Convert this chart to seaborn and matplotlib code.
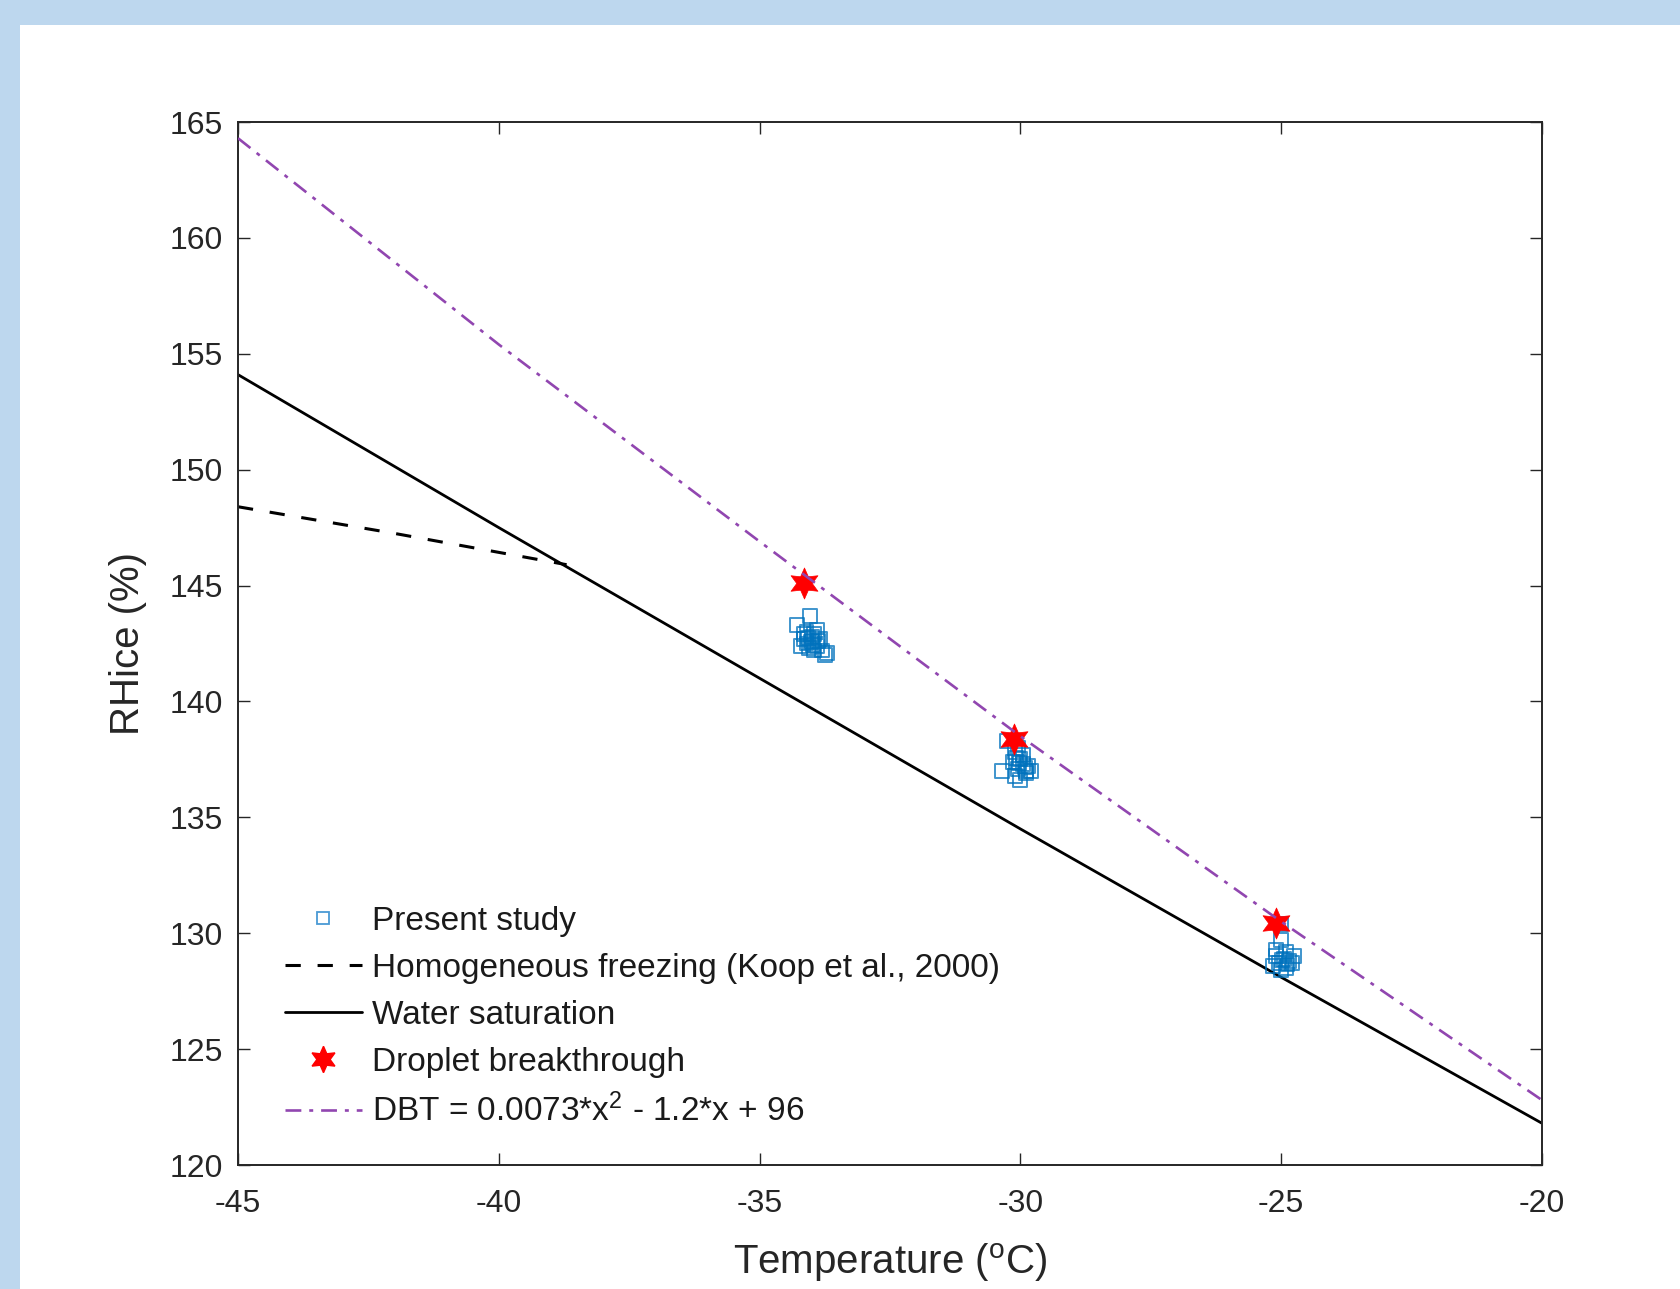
import matplotlib
matplotlib.use("Agg")
import matplotlib.pyplot as plt
from matplotlib.lines import Line2D
from matplotlib.patches import Rectangle
import seaborn as sns
import pandas as pd

# ---------------- data ----------------
present_T = [-34.03, -34.28, -34.10, -33.95, -34.15, -34.00, -33.85, -34.20, -34.05, -33.90,
             -33.80, -34.10, -33.95, -33.75, -33.70, -34.00, -33.90, -34.15, -34.02, -33.88,
             -34.08, -33.98,
             -30.26, -30.35, -30.10, -30.00, -29.95, -30.05, -29.90, -30.10, -30.00, -29.85,
             -29.80, -30.15, -29.95, -30.05, -29.90, -30.02, -29.92, -30.08,
             -25.00, -25.00, -25.10, -24.95, -24.85, -25.15, -25.05, -24.90, -24.80, -25.00,
             -24.75, -25.10, -24.90, -24.98, -24.88]
present_RH = [143.7, 143.3, 143.0, 142.9, 142.7, 142.6, 142.7, 142.4, 142.3, 142.4,
              142.2, 142.5, 142.2, 142.0, 142.1, 142.8, 143.1, 142.9, 142.55, 142.6,
              142.75, 142.45,
              138.3, 137.0, 137.8, 137.5, 137.3, 137.1, 137.0, 136.8, 136.6, 137.2,
              137.0, 137.4, 137.7, 138.0, 136.9, 137.35, 137.15, 137.55,
              130.4, 129.7, 129.0, 128.9, 128.8, 128.6, 128.7, 128.5, 128.7, 128.4,
              129.0, 129.3, 129.2, 128.85, 128.65]

homog_T = [-45.0, -42.0, -38.7]
homog_RH = [148.4, 147.25, 145.9]

water_T = [-45, -40, -35, -30, -25, -20]
water_RH = [154.1, 147.5, 141.0, 134.5, 128.1, 121.8]

dbt_star_T = [-34.15, -30.12, -25.10]
dbt_star_RH = [145.1, 138.4, 130.45]

dbt_fit_T = [-45, -40, -35, -30, -25, -20]
dbt_fit_RH = [164.3, 155.4, 146.9, 138.5, 130.5, 122.8]

xticks = [-45, -40, -35, -30, -25, -20]
yticks = [120, 125, 130, 135, 140, 145, 150, 155, 160, 165]

labels = ["Present study",
          "Homogeneous freezing (Koop et al., 2000)",
          "Water saturation",
          "Droplet breakthrough",
          "DBT = 0.0073*x$^2$ - 1.2*x + 96"]

# ---------------- style ----------------
sns.set_style("ticks")
plt.rcParams["font.family"] = ["Liberation Sans", "DejaVu Sans"]
plt.rcParams["mathtext.fontset"] = "custom"
plt.rcParams["mathtext.rm"] = "Liberation Sans"
plt.rcParams["mathtext.it"] = "Liberation Sans:italic"
plt.rcParams["mathtext.bf"] = "Liberation Sans:bold"

W, H = 1681, 1289
fig = plt.figure(figsize=(W / 100, H / 100), dpi=100)
fig.patch.set_facecolor("white")
border = "#BDD7EE"
fig.patches.append(Rectangle((0, 0), 20 / W, 1, transform=fig.transFigure,
                             facecolor=border, edgecolor="none", zorder=0))
fig.patches.append(Rectangle((0, 1 - 25 / H), 1, 25 / H, transform=fig.transFigure,
                             facecolor=border, edgecolor="none", zorder=0))

ax = fig.add_axes([238 / W, 1 - 1165 / H, (1542 - 238) / W, (1165 - 122) / H])

sq_color = "#0072BD"
purple = "#9146B0"
axc = "#262626"

df_p = pd.DataFrame({"T": present_T, "RH": present_RH})
df_h = pd.DataFrame({"T": homog_T, "RH": homog_RH})
df_w = pd.DataFrame({"T": water_T, "RH": water_RH})
df_s = pd.DataFrame({"T": dbt_star_T, "RH": dbt_star_RH})
df_f = pd.DataFrame({"T": dbt_fit_T, "RH": dbt_fit_RH})

sns.lineplot(data=df_w, x="T", y="RH", ax=ax, color="black", lw=2.0, sort=False, zorder=2)
sns.lineplot(data=df_h, x="T", y="RH", ax=ax, color="black", lw=2.2, sort=False,
             zorder=2, dashes=False)
ax.lines[-1].set_linestyle((0, (5, 5.5)))
sns.scatterplot(data=df_p, x="T", y="RH", ax=ax, marker="s", s=100, alpha=0.75,
                facecolor="none", edgecolor=sq_color, linewidth=1.4, zorder=3)
sns.scatterplot(data=df_s, x="T", y="RH", ax=ax, marker=(6, 1, 0), s=500,
                color="red", edgecolor="red", linewidth=0.5, zorder=4)
sns.lineplot(data=df_f, x="T", y="RH", ax=ax, color=purple, lw=1.9, sort=False, zorder=5)
ax.lines[-1].set_linestyle((0, (6, 3, 1.5, 3)))

ax.set_xlim(-45, -20)
ax.set_ylim(120, 165)
ax.set_xticks(xticks)
ax.set_yticks(yticks)
ax.set_xticklabels([str(v) for v in xticks])
ax.set_yticklabels([str(v) for v in yticks])
ax.tick_params(direction="in", length=8.5, width=1.0, colors=axc, labelsize=23,
               top=True, right=True, labelcolor=axc)
ax.tick_params(axis="x", pad=17)
ax.tick_params(axis="y", pad=11)
for s in ax.spines.values():
    s.set_visible(True)
    s.set_linewidth(1.4)
    s.set_color(axc)

ax.set_xlabel("Temperature ($^{\\mathrm{o}}$C)", fontsize=29, color=axc, labelpad=16)
ax.set_ylabel("RHice (%)", fontsize=29, color=axc, labelpad=16)

handles = [
    Line2D([], [], ls="none", marker="s", ms=9, mfc="none", mec="#4A9AD4", mew=1.3),
    Line2D([], [], color="black", lw=2.2, ls=(0, (5, 5.5))),
    Line2D([], [], color="black", lw=2.0),
    Line2D([], [], ls="none", marker=(6, 1, 0), ms=19, color="red"),
    Line2D([], [], color=purple, lw=1.9, ls=(0, (6, 3, 1.5, 3))),
]
leg = ax.legend(handles, labels, loc="lower left", bbox_to_anchor=(0.036, 0.035),
                frameon=False, fontsize=24, handlelength=2.3, handletextpad=0.3,
                labelspacing=0.48, borderpad=0, borderaxespad=0)
for t in leg.get_texts():
    t.set_color("#1a1a1a")

fig.savefig("out.png", dpi=100)
